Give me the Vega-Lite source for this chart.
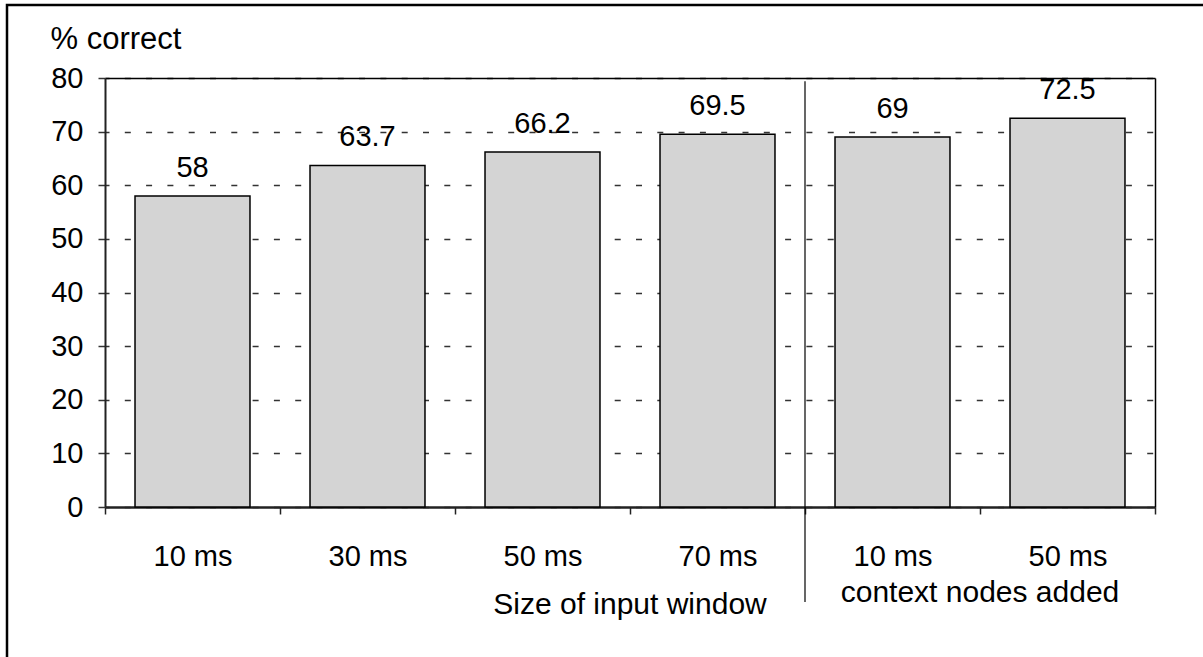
{
  "$schema": "https://vega.github.io/schema/vega-lite/v6.json",
  "autosize": {"type": "none"},
  "padding": {"left": 7, "top": 5, "right": 0, "bottom": 0},
  "width": 1210,
  "height": 670,
  "background": "white",
  "config": {
    "font": "Liberation Sans",
    "view": {"stroke": "black", "strokeWidth": 2.5}
  },
  "datasets": {
    "bars": [
      {"bar": "1|10 ms", "pct": 58},
      {"bar": "2|30 ms", "pct": 63.7},
      {"bar": "3|50 ms", "pct": 66.2},
      {"bar": "4|70 ms", "pct": 69.5},
      {"bar": "5|10 ms", "pct": 69},
      {"bar": "6|50 ms", "pct": 72.5}
    ]
  },
  "layer": [
    {
      "data": {"name": "bars"},
      "mark": {"type": "bar", "fill": "#d4d4d4", "stroke": "black", "strokeWidth": 1.5, "width": {"band": 0.657}},
      "encoding": {
        "x": {
          "field": "bar", "type": "nominal",
          "scale": {"type": "band", "paddingInner": 0, "paddingOuter": 0, "range": [98, 1148]},
          "axis": {
            "orient": "bottom", "offset": -168, "title": null,
            "domainColor": "#222", "domainWidth": 2.5,
            "tickBand": "extent", "tickColor": "#222", "tickWidth": 1.5, "tickSize": 7,
            "labelExpr": "split(datum.label, '|')[1]",
            "labelAngle": 0, "labelFontSize": 29, "labelColor": "black",
            "labelPadding": 51, "labelBaseline": "alphabetic", "grid": false
          }
        },
        "y": {
          "field": "pct", "type": "quantitative",
          "scale": {"domain": [0, 80], "nice": false, "range": [502, 73]},
          "axis": {
            "orient": "left", "offset": -98,
            "values": [0, 10, 20, 30, 40, 50, 60, 70, 80],
            "grid": true, "gridColor": "#333", "gridDash": [6, 15.3], "gridWidth": 1.5, "gridDashOffset": 2,
            "domainColor": "#222", "domainWidth": 2,
            "tickColor": "#333", "tickSize": 7, "tickWidth": 1.5,
            "labelFontSize": 29, "labelColor": "black", "labelPadding": 15,
            "title": "% correct", "titleAngle": 0, "titleAlign": "left", "titleBaseline": "alphabetic",
            "titleX": -55, "titleY": 43, "titleFontSize": 31, "titleFontWeight": "normal", "titleColor": "black"
          }
        }
      }
    },
    {
      "data": {"name": "bars"},
      "mark": {"type": "text", "fontSize": 29, "color": "black", "align": "center", "baseline": "alphabetic", "dy": -19},
      "encoding": {
        "x": {
          "field": "bar", "type": "nominal",
          "axis": {"orient": "top", "offset": -73, "title": null, "domain": true, "domainColor": "black", "domainWidth": 1.5, "ticks": false, "labels": false, "grid": false}
        },
        "y": {
          "field": "pct", "type": "quantitative",
          "scale": {"domain": [0, 80], "nice": false, "range": [502, 73]},
          "axis": {"orient": "right", "offset": -62, "title": null, "domain": true, "domainColor": "black", "domainWidth": 1.5, "ticks": false, "labels": false, "grid": false}
        },
        "text": {"field": "pct", "type": "nominal"}
      }
    },
    {
      "data": {"values": [{"bar": "5|10 ms"}]},
      "mark": {"type": "rule", "stroke": "black", "strokeWidth": 1.2},
      "encoding": {
        "x": {"field": "bar", "type": "nominal", "bandPosition": 0, "axis": null},
        "y": {"datum": 79.4, "type": "quantitative", "scale": {"domain": [0, 80], "nice": false, "range": [502, 73]}, "axis": null},
        "y2": {"datum": -17.7}
      }
    },
    {
      "data": {"values": [{"bar": "4|70 ms", "label": "Size of input window"}]},
      "mark": {"type": "text", "fontSize": 30, "color": "black", "align": "center", "baseline": "alphabetic"},
      "encoding": {
        "x": {"field": "bar", "type": "nominal", "bandPosition": 0, "axis": null},
        "y": {"datum": -20, "type": "quantitative", "scale": {"domain": [0, 80], "nice": false, "range": [502, 73]}, "axis": null},
        "text": {"field": "label"}
      }
    },
    {
      "data": {"values": [{"bar": "6|50 ms", "label": "context nodes added"}]},
      "mark": {"type": "text", "fontSize": 30, "color": "black", "align": "center", "baseline": "alphabetic"},
      "encoding": {
        "x": {"field": "bar", "type": "nominal", "bandPosition": 0, "axis": null},
        "y": {"datum": -17.7, "type": "quantitative", "scale": {"domain": [0, 80], "nice": false, "range": [502, 73]}, "axis": null},
        "text": {"field": "label"}
      }
    }
  ],
  "resolve": {"axis": {"x": "independent", "y": "independent"}}
}
